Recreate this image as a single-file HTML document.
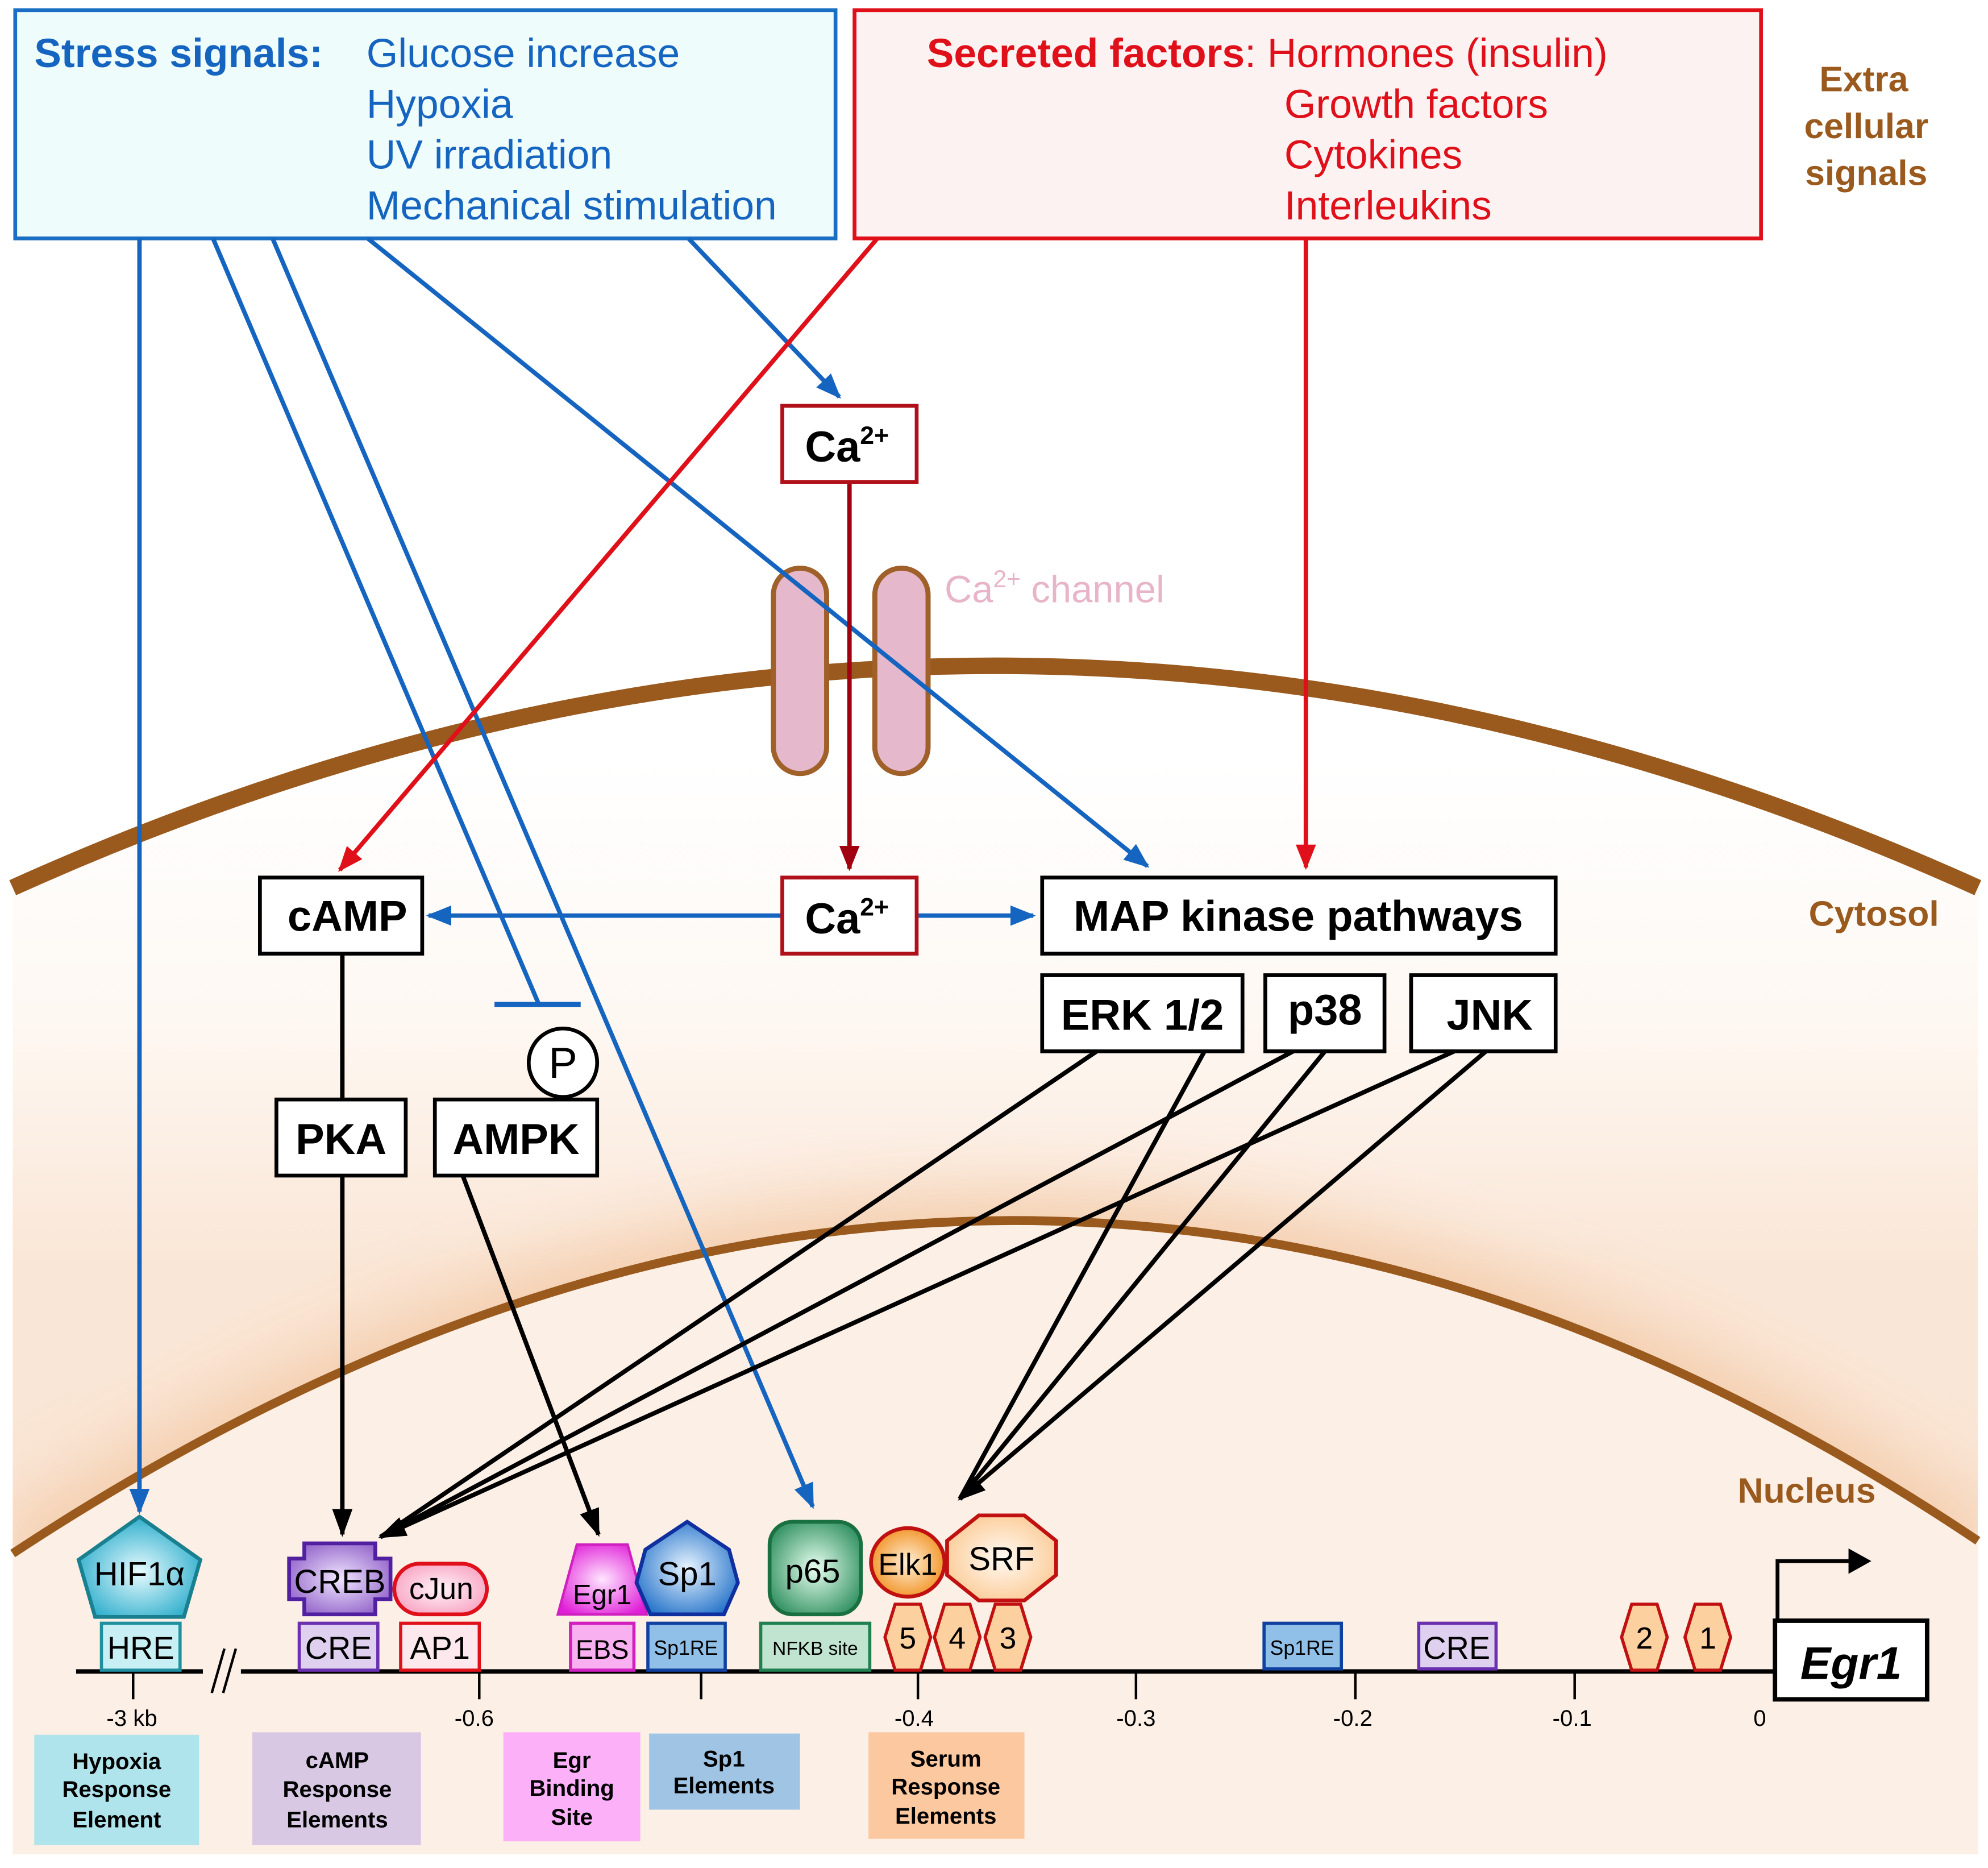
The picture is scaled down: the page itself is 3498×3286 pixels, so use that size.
<!DOCTYPE html>
<html><head><meta charset="utf-8"><style>html,body{margin:0;padding:0;background:#fff}svg{display:block}text{font-family:"Liberation Sans",sans-serif}</style></head>
<body>
<svg width="3498" height="3286" viewBox="0 0 1568 1473" xmlns="http://www.w3.org/2000/svg">
<defs>
<linearGradient id="cyt" gradientUnits="userSpaceOnUse" x1="0" y1="600" x2="0" y2="1000">
<stop offset="0" stop-color="#ffffff"/><stop offset="0.5" stop-color="#fef8f3"/><stop offset="1" stop-color="#fae6d6"/></linearGradient>
<filter id="bl" x="-20%" y="-50%" width="140%" height="200%"><feGaussianBlur stdDeviation="28"/></filter>
<radialGradient id="g_hif" cx="0.5" cy="0.55" r="0.6"><stop offset="0" stop-color="#e8fbff"/><stop offset="1" stop-color="#20a8c8"/></radialGradient>
<radialGradient id="g_creb" cx="0.5" cy="0.5" r="0.6"><stop offset="0" stop-color="#f0e6ff"/><stop offset="1" stop-color="#9060c8"/></radialGradient>
<radialGradient id="g_jun" cx="0.5" cy="0.5" r="0.6"><stop offset="0" stop-color="#fff4f8"/><stop offset="1" stop-color="#f8a0c0"/></radialGradient>
<radialGradient id="g_egr" cx="0.5" cy="0.5" r="0.6"><stop offset="0" stop-color="#ffe6ff"/><stop offset="1" stop-color="#e020d8"/></radialGradient>
<radialGradient id="g_sp1" cx="0.5" cy="0.5" r="0.6"><stop offset="0" stop-color="#e8f4ff"/><stop offset="1" stop-color="#2070c8"/></radialGradient>
<radialGradient id="g_p65" cx="0.5" cy="0.5" r="0.6"><stop offset="0" stop-color="#e8fff0"/><stop offset="1" stop-color="#309060"/></radialGradient>
<radialGradient id="g_elk" cx="0.5" cy="0.5" r="0.6"><stop offset="0" stop-color="#fff0d8"/><stop offset="1" stop-color="#f08810"/></radialGradient>
<radialGradient id="g_srf" cx="0.5" cy="0.5" r="0.6"><stop offset="0" stop-color="#fffaf4"/><stop offset="1" stop-color="#fcc890"/></radialGradient>
<marker id="ab2" markerWidth="20" markerHeight="16" refX="18" refY="8" orient="auto" markerUnits="userSpaceOnUse"><path d="M0,0 L20,8 L0,16 Z" fill="#1565c0"/></marker>
<marker id="ar2" markerWidth="20" markerHeight="16" refX="18" refY="8" orient="auto" markerUnits="userSpaceOnUse"><path d="M0,0 L20,8 L0,16 Z" fill="#e0101a"/></marker>
<marker id="ad2" markerWidth="20" markerHeight="16" refX="18" refY="8" orient="auto" markerUnits="userSpaceOnUse"><path d="M0,0 L20,8 L0,16 Z" fill="#a00010"/></marker>
<marker id="ak2" markerWidth="22" markerHeight="16" refX="20" refY="8" orient="auto" markerUnits="userSpaceOnUse"><path d="M0,0 L22,8 L0,16 Z" fill="#000"/></marker>
<clipPath id="cell"><path d="M10,700 Q785,350 1560,700 L1560,1462 L10,1462 Z"/></clipPath>
</defs>

<!-- cell interior -->
<path d="M10,700 Q785,350 1560,700 L1560,1462 L10,1462 Z" fill="url(#cyt)"/>
<g clip-path="url(#cell)">
<path d="M10,1240 Q800,720 1560,1230" fill="none" stroke="#f3c9a6" stroke-width="70" filter="url(#bl)" opacity="0.9"/>
</g>
<path d="M10,1225 Q800,705 1560,1215 L1560,1462 L10,1462 Z" fill="#fcefe6"/>
<path d="M10,700 Q785,350 1560,700" fill="none" stroke="#9a5a1e" stroke-width="13"/>
<path d="M10,1225 Q800,705 1560,1215" fill="none" stroke="#9a5a1e" stroke-width="7"/>

<!-- boxes top -->
<rect x="12" y="8" width="647" height="180" fill="#eefcfc" stroke="#1a6fc4" stroke-width="3"/>
<text x="27" y="53" font-size="32" font-weight="bold" fill="#1565c0">Stress signals:</text>
<g font-size="32" fill="#1565c0"><text x="289" y="53">Glucose increase</text><text x="289" y="93">Hypoxia</text><text x="289" y="133">UV irradiation</text><text x="289" y="173">Mechanical stimulation</text></g>
<rect x="674" y="8" width="715" height="180" fill="#fdf2f2" stroke="#e0101a" stroke-width="3"/>
<text x="731" y="53" font-size="32" fill="#e0101a"><tspan font-weight="bold">Secreted factors</tspan>: Hormones (insulin)</text>
<g font-size="32" fill="#e0101a"><text x="1013" y="93">Growth factors</text><text x="1013" y="133">Cytokines</text><text x="1013" y="173">Interleukins</text></g>
<g font-size="28" font-weight="bold" fill="#9a5a1e" text-anchor="middle"><text x="1470" y="72">Extra</text><text x="1472" y="109">cellular</text><text x="1472" y="146">signals</text>
<text x="1478" y="730">Cytosol</text><text x="1425" y="1185">Nucleus</text></g>

<!-- channel -->
<rect x="610" y="448" width="42" height="162" rx="21" fill="#e6b8cb" stroke="#a0602a" stroke-width="4"/>
<rect x="690" y="448" width="42" height="162" rx="21" fill="#e6b8cb" stroke="#a0602a" stroke-width="4"/>
<text x="745" y="475" font-size="30" fill="#e8b4c8">Ca<tspan font-size="19" dy="-12">2+</tspan><tspan dy="12"> channel</tspan></text>

<!-- arrows -->
<g stroke-width="3.5" fill="none">
<line x1="110" y1="188" x2="110" y2="1192" stroke="#1565c0" marker-end="url(#ab2)"/>
<line x1="168" y1="188" x2="425" y2="792" stroke="#1565c0"/>
<line x1="390" y1="792" x2="458" y2="792" stroke="#1565c0" stroke-width="4"/>
<line x1="215" y1="188" x2="641" y2="1188" stroke="#1565c0" marker-end="url(#ab2)"/>
<line x1="290" y1="188" x2="905" y2="683" stroke="#1565c0" marker-end="url(#ab2)"/>
<line x1="543" y1="188" x2="662" y2="313" stroke="#1565c0" marker-end="url(#ab2)"/>
<line x1="617" y1="722" x2="338" y2="722" stroke="#1565c0" marker-end="url(#ab2)"/>
<line x1="723" y1="722" x2="815" y2="722" stroke="#1565c0" marker-end="url(#ab2)"/>
<line x1="692" y1="188" x2="268" y2="686" stroke="#e0101a" marker-end="url(#ar2)"/>
<line x1="1030" y1="188" x2="1030" y2="684" stroke="#e0101a" marker-end="url(#ar2)"/>
<line x1="670" y1="380" x2="670" y2="685" stroke="#a00010" marker-end="url(#ad2)"/>
<line x1="270" y1="752" x2="270" y2="867" stroke="#000"/>
<line x1="270" y1="927" x2="270" y2="1210" stroke="#000" marker-end="url(#ak2)"/>
<line x1="365" y1="927" x2="472" y2="1210" stroke="#000" marker-end="url(#ak2)"/>
<line x1="865" y1="829" x2="300" y2="1212" stroke="#000"/>
<line x1="1020" y1="829" x2="300" y2="1212" stroke="#000"/>
<line x1="1147" y1="829" x2="300" y2="1212" stroke="#000" marker-end="url(#ak2)"/>
<line x1="950" y1="829" x2="757" y2="1182" stroke="#000"/>
<line x1="1045" y1="829" x2="757" y2="1182" stroke="#000"/>
<line x1="1172" y1="829" x2="757" y2="1182" stroke="#000" marker-end="url(#ak2)"/>
</g>

<!-- signaling boxes -->
<g font-size="34" text-anchor="middle" font-weight="bold">
<rect x="617" y="320" width="106" height="60" fill="#fff" stroke="#b0101a" stroke-width="3"/><text x="668" y="364">Ca<tspan font-size="20" dy="-14">2+</tspan></text>
<rect x="617" y="692" width="106" height="60" fill="#fff" stroke="#b0101a" stroke-width="3"/><text x="668" y="736">Ca<tspan font-size="20" dy="-14">2+</tspan></text>
<rect x="205" y="692" width="128" height="60" fill="#fff" stroke="#000" stroke-width="3"/><text x="274" y="734">cAMP</text>
<rect x="822" y="692" width="405" height="60" fill="#fff" stroke="#000" stroke-width="3"/><text x="1024" y="734">MAP kinase pathways</text>
<rect x="822" y="769" width="158" height="60" fill="#fff" stroke="#000" stroke-width="3"/><text x="901" y="812">ERK 1/2</text>
<rect x="998" y="769" width="94" height="60" fill="#fff" stroke="#000" stroke-width="3"/><text x="1045" y="808">p38</text>
<rect x="1113" y="769" width="114" height="60" fill="#fff" stroke="#000" stroke-width="3"/><text x="1175" y="812">JNK</text>
<rect x="218" y="867" width="102" height="60" fill="#fff" stroke="#000" stroke-width="3"/><text x="269" y="910">PKA</text>
<rect x="343" y="867" width="128" height="60" fill="#fff" stroke="#000" stroke-width="3"/><text x="407" y="910">AMPK</text>
<circle cx="444" cy="838" r="27" fill="#fff" stroke="#000" stroke-width="3"/><text x="444" y="850" font-weight="normal">P</text>
</g>

<!-- DNA -->
<line x1="60" y1="1318" x2="1400" y2="1318" stroke="#000" stroke-width="3.5"/>
<rect x="160" y="1300" width="30" height="36" fill="#fcefe6"/>
<line x1="167" y1="1335" x2="177" y2="1300" stroke="#000" stroke-width="2"/>
<line x1="176" y1="1335" x2="186" y2="1300" stroke="#000" stroke-width="2"/>
<g stroke="#000" stroke-width="2"><line x1="105" y1="1318" x2="105" y2="1340"/><line x1="378" y1="1318" x2="378" y2="1340"/><line x1="553" y1="1318" x2="553" y2="1340"/><line x1="724" y1="1318" x2="724" y2="1340"/><line x1="896" y1="1318" x2="896" y2="1340"/><line x1="1069" y1="1318" x2="1069" y2="1340"/><line x1="1242" y1="1318" x2="1242" y2="1340"/></g>
<g font-size="18" text-anchor="middle"><text x="104" y="1361">-3 kb</text><text x="374" y="1361">-0.6</text><text x="721" y="1361">-0.4</text><text x="896" y="1361">-0.3</text><text x="1067" y="1361">-0.2</text><text x="1240" y="1361">-0.1</text><text x="1388" y="1361">0</text></g>

<!-- sites -->
<g font-size="25" text-anchor="middle">
<rect x="80" y="1280" width="62" height="37" fill="#c8f0f4" stroke="#2090a0" stroke-width="2.5"/><text x="111" y="1308">HRE</text>
<rect x="236" y="1280" width="62" height="37" fill="#e0d0f0" stroke="#6a30b0" stroke-width="2.5"/><text x="267" y="1308">CRE</text>
<rect x="316" y="1280" width="62" height="37" fill="#fde8ee" stroke="#e0101a" stroke-width="2.5"/><text x="347" y="1308">AP1</text>
<rect x="450" y="1280" width="50" height="37" fill="#f8b0f0" stroke="#d020c0" stroke-width="2.5"/><text x="475" y="1308" font-size="21">EBS</text>
<rect x="511" y="1280" width="61" height="37" fill="#90c0e8" stroke="#1040a0" stroke-width="2.5"/><text x="541" y="1305" font-size="16">Sp1RE</text>
<rect x="600" y="1280" width="86" height="37" fill="#c0e4d0" stroke="#208050" stroke-width="2.5"/><text x="643" y="1305" font-size="15">NFKB site</text>
<rect x="997" y="1280" width="61" height="36" fill="#90c0e8" stroke="#1040a0" stroke-width="2.5"/><text x="1027" y="1305" font-size="16">Sp1RE</text>
<rect x="1119" y="1280" width="61" height="36" fill="#e0d0f0" stroke="#6a30b0" stroke-width="2.5"/><text x="1149" y="1308">CRE</text>
</g>
<g fill="#fdd0a0" stroke="#c01010" stroke-width="2.5">
<path d="M706,1265 L726,1265 L734,1291 L726,1317 L706,1317 L698,1291 Z"/>
<path d="M745,1265 L765,1265 L773,1291 L765,1317 L745,1317 L737,1291 Z"/>
<path d="M785,1265 L805,1265 L813,1291 L805,1317 L785,1317 L777,1291 Z"/>
<path d="M1287,1265 L1307,1265 L1315,1291 L1307,1317 L1287,1317 L1279,1291 Z"/>
<path d="M1337,1265 L1357,1265 L1365,1291 L1357,1317 L1337,1317 L1329,1291 Z"/>
</g>
<g font-size="24" text-anchor="middle"><text x="716" y="1300">5</text><text x="755" y="1300">4</text><text x="795" y="1300">3</text><text x="1297" y="1300">2</text><text x="1347" y="1300">1</text></g>

<!-- Egr1 gene -->
<polyline points="1402,1278 1402,1231 1460,1231" fill="none" stroke="#000" stroke-width="3"/>
<path d="M1458,1221 L1476,1231 L1458,1241 Z"/>
<rect x="1400" y="1278" width="120" height="62" fill="#fff" stroke="#000" stroke-width="3.5"/>
<text x="1460" y="1324" font-size="36" font-style="italic" font-weight="bold" text-anchor="middle">Egr1</text>

<!-- proteins -->
<path d="M110,1196 L158,1230 L145,1275 L75,1275 L62,1230 Z" fill="url(#g_hif)" stroke="#1a8090" stroke-width="3"/>
<text x="110" y="1250" font-size="26" text-anchor="middle">HIF1α</text>
<path d="M240,1217 L296,1217 L296,1229 L308,1229 L308,1261 L296,1261 L296,1273 L240,1273 L240,1261 L228,1261 L228,1229 L240,1229 Z" fill="url(#g_creb)" stroke="#5020a0" stroke-width="3"/>
<text x="268" y="1256" font-size="26" text-anchor="middle">CREB</text>
<rect x="311" y="1233" width="73" height="40" rx="20" fill="url(#g_jun)" stroke="#e0101a" stroke-width="3"/>
<text x="348" y="1261" font-size="24" text-anchor="middle">cJun</text>
<path d="M455,1218 L495,1218 L510,1273 L440,1273 Z" fill="url(#g_egr)" stroke="#d020c0" stroke-width="2"/>
<text x="475" y="1265" font-size="22" text-anchor="middle">Egr1</text>
<path d="M542,1200 L575,1222 L582,1248 L571,1273 L513,1273 L502,1248 L509,1222 Z" fill="url(#g_sp1)" stroke="#1030a0" stroke-width="3"/>
<text x="542" y="1250" font-size="26" text-anchor="middle">Sp1</text>
<rect x="607" y="1200" width="72" height="73" rx="18" fill="url(#g_p65)" stroke="#1a7040" stroke-width="3"/>
<text x="641" y="1248" font-size="26" text-anchor="middle">p65</text>
<ellipse cx="716" cy="1232" rx="29" ry="27" fill="url(#g_elk)" stroke="#c01010" stroke-width="3"/>
<text x="716" y="1242" font-size="24" text-anchor="middle">Elk1</text>
<path d="M772,1195 L808,1195 L833,1215 L833,1242 L808,1262 L772,1262 L747,1242 L747,1215 Z" fill="url(#g_srf)" stroke="#c01010" stroke-width="3"/>
<text x="790" y="1238" font-size="26" text-anchor="middle">SRF</text>

<!-- legend boxes -->
<g font-size="18" font-weight="bold" text-anchor="middle">
<rect x="27" y="1368" width="130" height="87" fill="#b0e4ec"/><text x="92" y="1395">Hypoxia</text><text x="92" y="1417">Response</text><text x="92" y="1441">Element</text>
<rect x="199" y="1366" width="133" height="89" fill="#d8c8e4"/><text x="266" y="1394">cAMP</text><text x="266" y="1417">Response</text><text x="266" y="1441">Elements</text>
<rect x="397" y="1366" width="108" height="86" fill="#fcb0f8"/><text x="451" y="1394">Egr</text><text x="451" y="1416">Binding</text><text x="451" y="1439">Site</text>
<rect x="512" y="1367" width="119" height="60" fill="#a0c4e4"/><text x="571" y="1393">Sp1</text><text x="571" y="1414">Elements</text>
<rect x="685" y="1366" width="123" height="84" fill="#fcc8a0"/><text x="746" y="1393">Serum</text><text x="746" y="1415">Response</text><text x="746" y="1438">Elements</text>
</g>
</svg>
</body></html>
